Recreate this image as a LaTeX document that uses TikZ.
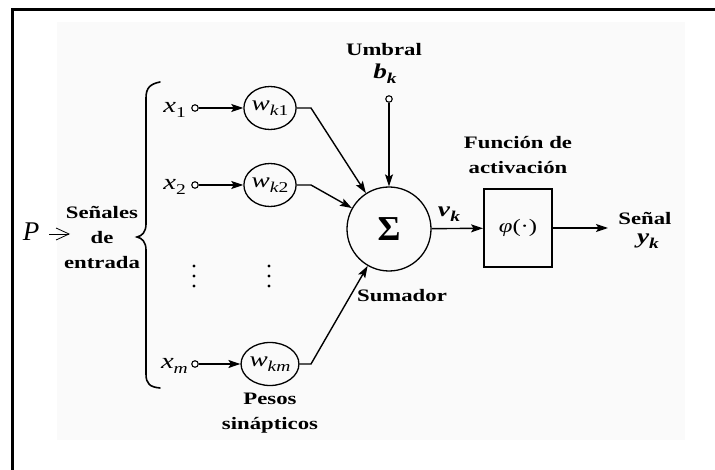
\documentclass[tikz,border=0pt]{standalone}
\usepackage{fontspec}
\setmainfont{Liberation Serif}[FakeStretch=1.3]
\newfontfamily\plainfont{Liberation Serif}
\usetikzlibrary{arrows.meta,shapes.geometric}
\newcommand\sbs[1]{\raisebox{-5pt}{\fontsize{15}{15}\selectfont #1}}
\begin{document}
\begin{tikzpicture}[x=1pt,y=-1pt,
  lbl/.style={font=\fontsize{17.5}{25}\selectfont\bfseries, align=center, inner sep=0pt},
  var/.style={font=\fontsize{22}{24}\selectfont, inner sep=0pt},
  wcirc/.style={draw, ellipse, line width=1.3pt, minimum width=46pt, minimum height=43pt, inner sep=0pt, font=\fontsize{21}{22}\selectfont},
  port/.style={draw, circle, line width=1.1pt, minimum size=6.5pt, inner sep=0pt, fill=white},
  conn/.style={line width=1.4pt},
  arr/.style={conn, -{Stealth[length=12pt,width=8pt,inset=2.5pt]}},
]
\useasboundingbox (0,0) rectangle (715,470);
\fill[black!2] (57,22) rectangle (685,440);
\draw[line width=2.5pt] (12.5,470) -- (12.5,9.5) -- (715,9.5);

% brace
\draw[line width=1.6pt, line cap=round]
  (160,82) .. controls (150,84) and (146,88) .. (146,98) -- (146,224)
  .. controls (146,232) and (142,236) .. (137,237)
  .. controls (142,238) and (146,242) .. (146,250) -- (146,374)
  .. controls (146,384) and (150,387) .. (160,388);

% left labels
\node[font=\plainfont\fontsize{27}{27}\selectfont\itshape, inner sep=0pt] (P) at (31,232) {P};
\coordinate (pa1) at (49,234);
\coordinate (pa2) at (70,234);
\draw[line width=0.8pt, -{Straight Barb[length=13pt,width=12pt,line width=0.8pt]}] (pa1) -- (pa2);
\node[lbl] (senales) at (102,237) {Señales\\de\\entrada};

% inputs
\node[var, anchor=base east] (lx1) at (186,113) {\textit{x}\sbs{1}};
\node[var, anchor=base east] (lx2) at (186,190) {\textit{x}\sbs{2}};
\node[var, anchor=base east] (lxm) at (188,369) {\textit{x}\sbs{\textit{m}}};
\node[port] (p1) at (195,108) {};
\node[port] (p2) at (195,185) {};
\node[port] (pm) at (195,364) {};

\node[wcirc] (w1) at (270,108) {\textit{w}\sbs{\textit{k}1}};
\node[wcirc] (w2) at (270,185) {\textit{w}\sbs{\textit{k}2}};
\node[wcirc] (wm) at (270,364) {\textit{w}\sbs{\textit{km}}};

% vertical dots
\foreach \xx in {194,269} {
  \foreach \yy in {266,276,286} { \fill (\xx,\yy) circle (1.7pt); }
}

\node[lbl] (pesos) at (270,413) {Pesos\\sinápticos};

% summing junction
\node[draw, circle, minimum size=84pt, line width=1.3pt, inner sep=0pt,
      font=\plainfont\fontsize{35}{35}\selectfont\bfseries] (sum) at (389,229) {Σ};
\node[lbl] (sumlbl) at (402,296) {Sumador};

% bias
\node[lbl] (umbral) at (384,50) {Umbral};
\node[var, font=\fontsize{21}{22}\selectfont\bfseries] (bk) at (385,74) {\textit{b}\sbs{\textit{k}}};
\node[port] (bp) at (389,99) {};

% activation
\node[draw, line width=1.9pt, minimum width=68pt, minimum height=78pt, inner sep=0pt,
      font=\fontsize{19}{20}\selectfont] (phi) at (518,228) {\textit{φ}(·)};
\node[lbl] (fa) at (518,155) {Función de\\activación};
\node[var, font=\fontsize{21}{22}\selectfont\bfseries] (vk) at (449,214) {\textit{v}\sbs{\textit{k}}};

% output
\coordinate (out) at (608,228);
\node[lbl] (senal) at (645,218) {Señal};
\node[var, font=\fontsize{21}{22}\selectfont\bfseries] (yk) at (648,241) {\textit{y}\sbs{\textit{k}}};

% connectors
\draw[arr] (p1) -- (w1);
\draw[arr] (p2) -- (w2);
\draw[arr] (pm) -- (wm);
\coordinate (k1) at (311,108);
\coordinate (k2) at (311,185);
\coordinate (km) at (311,364);
\draw[arr] (w1.east) -- (k1) -- (sum);
\draw[arr] (w2.east) -- (k2) -- (sum);
\draw[arr] (wm.east) -- (km) -- (sum);
\draw[arr] (bp) -- (sum);
\draw[arr] (sum) -- (phi);
\draw[arr] (phi) -- (out);
\end{tikzpicture}
\end{document}
